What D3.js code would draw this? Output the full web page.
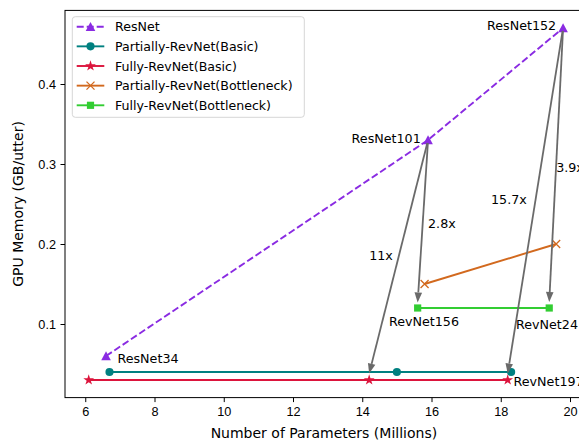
<!DOCTYPE html>
<html>
<head>
<meta charset="utf-8">
<script src="https://cdn.jsdelivr.net/npm/d3@7"></script>
<style>
  body { margin: 0; background: #fff; }
  svg { font-family: 'DejaVu Sans', sans-serif; }
  .tick text { font-size: 12.7px; fill: #000; }
  .axis-label { font-size: 14px; fill: #000; }
  .note { font-size: 12.7px; fill: #000; }
  .legend-text { font-size: 12.6px; fill: #000; }
</style>
</head>
<body>
<svg id="chart" width="579" height="441"></svg>
<script>
// Series: number of parameters (millions) and GPU memory (GB/utter)
const resnetParams = [6.6, 15.9, 19.8];
const resnetMemory = [0.06, 0.33, 0.47];
const partialBasicParams = [6.7, 15.0, 18.3];
const partialBasicMemory = [0.04, 0.04, 0.04];
const fullBasicParams = [6.1, 14.2, 18.2];
const fullBasicMemory = [0.03, 0.03, 0.03];
const partialBottleParams = [15.8, 19.6];
const partialBottleMemory = [0.15, 0.2];
const fullBottleParams = [15.6, 19.4];
const fullBottleMemory = [0.12, 0.12];

const seriesNames = [
  'ResNet',
  'Partially-RevNet(Basic)',
  'Fully-RevNet(Basic)',
  'Partially-RevNet(Bottleneck)',
  'Fully-RevNet(Bottleneck)',
];

const xTicks = [6, 8, 10, 12, 14, 16, 18, 20];
const yTicks = [0.1, 0.2, 0.3, 0.4];

// Reduction arrows: from a ResNet point to a RevNet point, with ratio text
const arrowFromX = [15.9, 15.9, 19.8, 19.8];
const arrowFromY = [0.33, 0.33, 0.47, 0.47];
const arrowToX = [14.2, 15.6, 18.2, 19.4];
const arrowToY = [0.038, 0.127, 0.038, 0.1275];
const ratioText = ['11x', '2.8x', '15.7x', '3.9x'];
const ratioX = [14.2, 15.9, 17.72, 19.6];
const ratioY = [0.18, 0.22, 0.25, 0.29];

// Model name labels
const modelNames = ['ResNet34', 'ResNet101', 'ResNet152', 'RevNet156', 'RevNet24', 'RevNet197'];
const modelX = [6.93, 15.69, 19.6, 14.77, 18.44, 18.37];
const modelY = [0.0515, 0.326, 0.467, 0.098, 0.094, 0.0225];
const modelAnchor = ['start', 'end', 'end', 'start', 'start', 'start'];

const colors = ['#8a2be2', '#008080', '#dc143c', '#d2691e', '#32cd32'];
const arrowColor = '#6a6a6a';

const plot = { left: 65, top: 10.4, right: 586.8, bottom: 397.6 };

/**
 * Builds the path of a marker centred on 0,0
 * @param {string} kind The marker type
 * @returns {string} The SVG path
 */
function markerPath(kind) {
  if (kind === 'triangle') return 'M0,-4.8L4.8,4.2L-4.8,4.2Z';
  if (kind === 'circle') return d3.symbol(d3.symbolCircle, 52)();
  if (kind === 'star') return d3.symbol(d3.symbolStar, 36)();
  if (kind === 'square') return 'M-3.6,-3.6H3.6V3.6H-3.6Z';
  return 'M-4,-4L4,4M-4,4L4,-4';
}

const markerKinds = ['triangle', 'circle', 'star', 'cross', 'square'];

const svg = d3.select('#chart');

const xScale = d3.scaleLinear().domain([5.415, 20.485]).range([plot.left, plot.right]);
const yScale = d3.scaleLinear().domain([0.008, 0.492]).range([plot.bottom, plot.top]);

/**
 * Draws the axes, the frame and the axis labels
 */
function addAxes() {
  const xAxis = svg.append('g')
    .attr('transform', 'translate(0,' + plot.bottom + ')')
    .call(d3.axisBottom(xScale).tickValues(xTicks).tickSize(4.5).tickPadding(4.5).tickFormat(d3.format('d')));
  const yAxis = svg.append('g')
    .attr('transform', 'translate(' + plot.left + ',0)')
    .call(d3.axisLeft(yScale).tickValues(yTicks).tickSize(4.5).tickPadding(4.5).tickFormat(d3.format('.1f')));
  [xAxis, yAxis].forEach((a) => {
    a.select('.domain').remove();
    a.selectAll('.tick line').attr('stroke', '#000').attr('stroke-width', 1);
    a.selectAll('text').attr('font-family', null).attr('font-size', null);
  });
  yAxis.selectAll('.tick text').attr('dy', '0.36em');

  svg.append('rect')
    .attr('x', plot.left)
    .attr('y', plot.top)
    .attr('width', plot.right - plot.left)
    .attr('height', plot.bottom - plot.top)
    .attr('fill', 'none')
    .attr('stroke', '#000')
    .attr('stroke-width', 1);

  svg.append('text')
    .attr('class', 'axis-label')
    .attr('x', (plot.left + plot.right) / 2 - 2)
    .attr('y', 437.5)
    .attr('text-anchor', 'middle')
    .text('Number of Parameters (Millions)');
  svg.append('text')
    .attr('class', 'axis-label')
    .attr('text-anchor', 'middle')
    .attr('transform', 'translate(23,' + (plot.top + plot.bottom) / 2 + ') rotate(-90)')
    .text('GPU Memory (GB/utter)');
}

/**
 * Draws one series as a line with markers
 * @param {number[]} xs The x values
 * @param {number[]} ys The y values
 * @param {number} i The series index
 */
function drawSeries(xs, ys, i) {
  const pts = xs.map((x, k) => [xScale(x), yScale(ys[k])]);
  const g = svg.append('g');
  g.append('path')
    .attr('d', d3.line()(pts))
    .attr('fill', 'none')
    .attr('stroke', colors[i])
    .attr('stroke-width', 1.9)
    .attr('stroke-dasharray', i === 0 ? '7,3' : null);
  g.selectAll('.mark')
    .data(pts)
    .enter()
    .append('path')
    .attr('transform', (d) => 'translate(' + d[0] + ',' + d[1] + ')')
    .attr('d', markerPath(markerKinds[i]))
    .attr('fill', colors[i])
    .attr('stroke', colors[i])
    .attr('stroke-width', markerKinds[i] === 'cross' ? 1.3 : 0);
}

/**
 * Draws the reduction arrows and their ratio labels
 */
function drawArrows() {
  const g = svg.append('g');
  arrowFromX.forEach((fx, i) => {
    const x0 = xScale(fx), y0 = yScale(arrowFromY[i]);
    const x1 = xScale(arrowToX[i]), y1 = yScale(arrowToY[i]);
    const len = Math.hypot(x1 - x0, y1 - y0);
    const ux = (x1 - x0) / len, uy = (y1 - y0) / len;
    const sx = x0 + ux * 3, sy = y0 + uy * 3;
    const hx = x1 - ux * 10, hy = y1 - uy * 10;
    g.append('line')
      .attr('x1', sx).attr('y1', sy)
      .attr('x2', hx).attr('y2', hy)
      .attr('stroke', arrowColor)
      .attr('stroke-width', 1.8);
    g.append('path')
      .attr('d', 'M' + x1 + ',' + y1 +
        'L' + (hx - uy * 3.8) + ',' + (hy + ux * 3.8) +
        'L' + (hx + uy * 3.8) + ',' + (hy - ux * 3.8) + 'Z')
      .attr('fill', arrowColor);
    g.append('text')
      .attr('class', 'note')
      .attr('x', xScale(ratioX[i]))
      .attr('y', yScale(ratioY[i]))
      .text(ratioText[i]);
  });
  modelNames.forEach((name, i) => {
    g.append('text')
      .attr('class', 'note')
      .attr('x', xScale(modelX[i]))
      .attr('y', yScale(modelY[i]))
      .attr('text-anchor', modelAnchor[i])
      .text(name);
  });
}

/**
 * Draws the legend in the upper left corner
 */
function drawLegend() {
  const g = svg.append('g').attr('transform', 'translate(72.3,16.7)');
  g.append('rect')
    .attr('width', 232)
    .attr('height', 100.6)
    .attr('rx', 3)
    .attr('fill', 'rgba(255,255,255,0.8)')
    .attr('stroke', '#d6d6d6')
    .attr('stroke-width', 1);
  seriesNames.forEach((name, i) => {
    const row = g.append('g').attr('transform', 'translate(0,' + (10 + i * 19.65) + ')');
    row.append('line')
      .attr('x1', 4.4).attr('x2', 32)
      .attr('stroke', colors[i])
      .attr('stroke-width', 1.9)
      .attr('stroke-dasharray', i === 0 ? '7,3' : null);
    row.append('path')
      .attr('transform', 'translate(18.2,0)')
      .attr('d', markerPath(markerKinds[i]))
      .attr('fill', colors[i])
      .attr('stroke', colors[i])
      .attr('stroke-width', markerKinds[i] === 'cross' ? 1.3 : 0);
    row.append('text')
      .attr('class', 'legend-text')
      .attr('x', 42.7)
      .attr('y', 4.6)
      .text(name);
  });
}

addAxes();
drawSeries(resnetParams, resnetMemory, 0);
drawSeries(partialBasicParams, partialBasicMemory, 1);
drawSeries(fullBasicParams, fullBasicMemory, 2);
drawSeries(partialBottleParams, partialBottleMemory, 3);
drawSeries(fullBottleParams, fullBottleMemory, 4);
drawArrows();
drawLegend();
</script>
</body>
</html>
